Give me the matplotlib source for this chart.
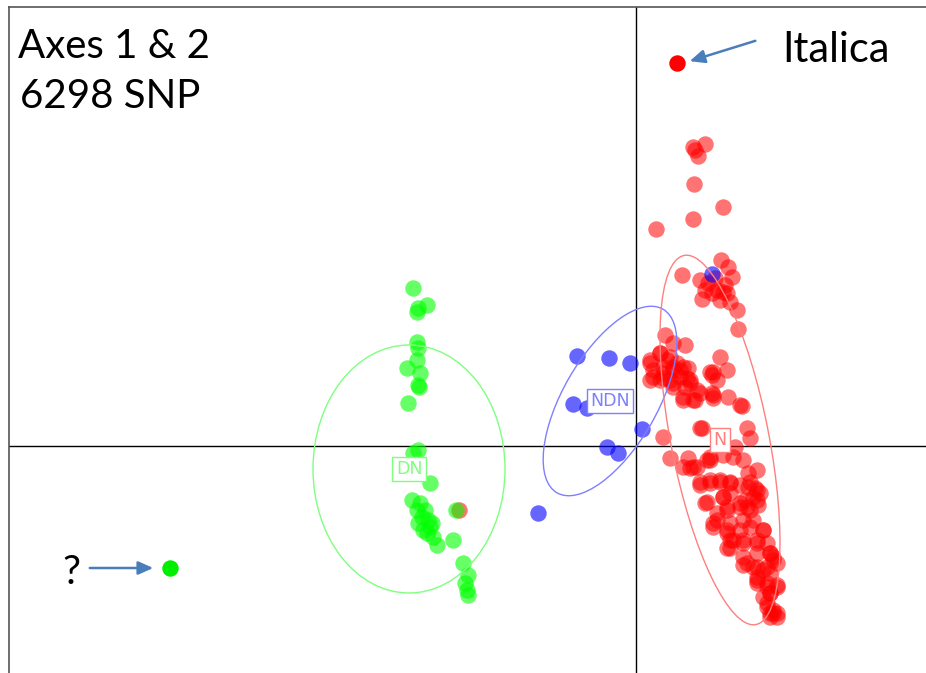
import numpy as np
import matplotlib.pyplot as plt
from matplotlib.patches import Ellipse

# PCA scores (axis 1, axis 2) per group
dn_x = [-2.23, -2.18, -2.09, -2.19, -2.19, -2.18, -2.19, -2.29, -2.16, -2.18,
        -2.17, -2.28, -2.18, -2.23, -2.06, -2.24, -2.16, -2.11, -2.08, -2.06,
        -2.09, -2.03, -1.99, -1.83, -1.80, -1.73, -1.68, -1.71, -1.69, -1.68,
        -2.19, -2.14, -2.18, -2.13, -2.04]
dn_y = [1.58, 1.38, 1.41, 1.34, 1.04, 0.98, 0.86, 0.78, 0.73, 0.61,
        0.59, 0.43, -0.04, -0.07, -0.37, -0.54, -0.57, -0.64, -0.74, -0.81,
        -0.87, -0.91, -0.99, -0.94, -0.64, -1.17, -1.29, -1.37, -1.44, -1.49,
        -0.64, -0.71, -0.77, -0.84, -0.77]

ndn_x = [-0.59, -0.27, -0.06, -0.63, -0.49, 0.06, -0.29, -0.18, -0.98, 0.76]
ndn_y = [0.90, 0.88, 0.83, 0.42, 0.38, 0.17, -0.01, -0.07, -0.67, 1.72]

n_x = [-1.77, 0.57, 0.69, 0.62, 0.59, 0.58, 0.87, 0.57, 0.20, 0.46,
       0.85, 0.92, 0.96, 0.64, 0.72, 0.81, 0.89, 0.91, 0.66, 0.76,
       0.87, 0.94, 1.01, 1.02, 0.29, 0.37, 0.49, 0.14, 0.24, 0.31,
       0.37, 0.44, 0.17, 0.27, 0.37, 0.51, 0.54, 0.61, 0.47, 0.59,
       0.84, 0.74, 0.91, 0.76, 0.92, 1.06, 0.27, 0.64, 1.11, 1.14,
       0.99, 0.34, 0.52, 0.57, 0.74, 0.87, 0.97, 1.07, 1.21, 1.12,
       0.64, 0.74, 0.84, 0.94, 1.04, 1.14, 1.21, 0.71, 0.87, 0.91,
       1.04, 1.17, 1.11, 0.81, 0.94, 1.07, 1.17, 1.27, 0.77, 0.91,
       0.97, 1.07, 1.21, 1.34, 0.94, 1.11, 1.21, 1.31, 1.37, 1.41,
       1.21, 1.31, 1.41, 1.34, 1.31, 1.37, 1.41, 1.34, 0.47, 0.71,
       0.54, 0.66, 0.47, 0.57, 0.64, 0.77, 0.77, 0.81,
       0.61, 0.74, 0.64, 0.74, 0.84, 0.94, 0.69, 0.87, 0.94, 1.12,
       1.19, 1.24, 1.09, 1.21, 0.81, 0.91, 1.04, 1.14, 1.22, 0.77,
       0.91, 1.04, 1.14, 1.27, 0.94, 1.07, 1.21, 1.31, 0.91, 1.07,
       1.21, 1.34, 1.37, 1.07, 1.17, 1.27, 1.21, 1.34, 1.21, 1.31,
       1.41, 1.27, 1.34, 1.31, 1.37, 1.34, 1.41,
       0.14, 0.24, 0.34, 0.41, 0.17, 0.27, 0.37, 0.47, 0.14, 0.24,
       0.34, 0.44, 0.54, 0.52, 0.37, 0.49, 0.27, 0.76, 0.77, 1.04,
       0.79, 0.84, 0.69]
n_y = [-0.64, 2.99, 3.02, 2.90, 2.96, 2.62, 2.39, 2.27, 2.17, 1.71,
       1.86, 1.79, 1.69, 1.66, 1.63, 1.56, 1.61, 1.53, 1.47, 1.53,
       1.54, 1.44, 1.36, 1.17, 1.11, 1.03, 1.01, 0.83, 0.93, 0.86,
       0.79, 0.76, 0.69, 0.68, 0.63, 0.68, 0.63, 0.56, 0.46, 0.46,
       0.89, 0.74, 0.76, 0.53, 0.49, 0.40, 0.09, 0.18, 0.18, 0.08,
       -0.01, -0.12, -0.12, -0.21, -0.11, -0.09, -0.11, -0.14, -0.24, -0.27,
       -0.36, -0.34, -0.36, -0.37, -0.39, -0.36, -0.44, -0.56, -0.51, -0.61,
       -0.57, -0.51, -0.61, -0.74, -0.77, -0.74, -0.74, -0.84, -0.81, -0.87,
       -0.94, -0.94, -0.97, -1.07, -1.02, -1.17, -1.21, -1.21, -1.11, -1.17,
       -1.34, -1.37, -1.39, -1.47, -1.57, -1.64, -1.71, -1.67, -0.21, -0.14,
       -0.22, 0.18, 0.49, 0.46, 0.53, 0.51, 0.74, 0.66,
       -0.21, -0.14, -0.39, -0.37, -0.34, -0.36, -0.57, -0.51, -0.47, -0.41,
       -0.42, -0.47, -0.54, -0.54, -0.67, -0.64, -0.61, -0.64, -0.59, -0.77,
       -0.84, -0.84, -0.81, -0.84, -0.94, -0.97, -0.94, -0.97, -1.02, -1.11,
       -1.07, -1.07, -1.14, -1.19, -1.21, -1.24, -1.31, -1.27, -1.37, -1.41,
       -1.41, -1.51, -1.47, -1.61, -1.67, -1.71, -1.67,
       0.86, 0.93, 0.89, 0.83, 0.76, 0.79, 0.76, 0.79, 0.66, 0.66,
       0.66, 0.69, 0.66, 0.78, 0.59, 0.59, 0.73, 0.71, 0.48, 0.41,
       1.68, 1.46, 1.56]

italica = (0.41, 3.83)
unknown = (-4.66, -1.22)

groups = ['DN', 'NDN', 'N']
colors = ['#00ff00', '#0000ff', '#ff0000']
label_colors = ['#7fff7f', '#7f7fff', '#ff7f7f']
# ellipse centre, full width, full height, angle
ell_center = [(-2.27, -0.23), (-0.26, 0.45), (0.84, 0.06)]
ell_size = [(1.92, 2.48), (2.12, 0.94), (3.76, 0.98)]
ell_angle = [0, 60, 101]

fig = plt.figure(figsize=(9.26, 6.73), dpi=100)
ax = fig.add_axes([9 / 926, 0, 917 / 926, 666 / 673])
ax.set_xlim(-6.27, 2.90)
ax.set_ylim(-2.27, 4.39)
ax.set_xticks([])
ax.set_yticks([])
for side in ['right', 'bottom']:
    ax.spines[side].set_visible(False)
for side in ['left', 'top']:
    ax.spines[side].set_color('#555555')
    ax.spines[side].set_linewidth(1.2)

ax.axhline(0, color='black', lw=1, zorder=1)
ax.axvline(0, color='black', lw=1, zorder=1)

ax.scatter(n_x, n_y, s=140, c=colors[2], alpha=0.55, lw=0, zorder=2)
ax.scatter(dn_x, dn_y, s=140, c=colors[0], alpha=0.6, lw=0, zorder=3)
ax.scatter(ndn_x, ndn_y, s=140, c=colors[1], alpha=0.6, lw=0, zorder=4)
ax.scatter([italica[0]], [italica[1]], s=140, c=colors[2], lw=0, zorder=4)
ax.scatter([unknown[0]], [unknown[1]], s=140, c='#00ee00', lw=0, zorder=4)

for i, g in enumerate(groups):
    e = Ellipse(ell_center[i], ell_size[i][0], ell_size[i][1], angle=ell_angle[i],
                fill=False, edgecolor=label_colors[i], lw=1, zorder=5)
    ax.add_patch(e)
    ax.text(ell_center[i][0], ell_center[i][1], g, color=label_colors[i],
            fontsize=12.5, family='DejaVu Sans', ha='center', va='center', zorder=6,
            bbox=dict(boxstyle='square,pad=0.2', fc='white', ec=label_colors[i], lw=1))

fig.text(18 / 926, 1 - 46 / 673, 'Axes 1 & 2', fontsize=29, family='Lato', va='center')
fig.text(20 / 926, 1 - 97 / 673, '6298 SNP', fontsize=29, family='Lato', va='center')
fig.text(782 / 926, 1 - 50 / 673, 'Italica', fontsize=30, family='Lato', va='center')
fig.text(71 / 926, 1 - 573 / 673, '?', fontsize=29, family='Lato', va='center', ha='center')

arrow = dict(arrowstyle='-|>,head_length=0.9,head_width=0.4', color='#4a7ebb', lw=1.8)
ax.annotate('', xy=(italica[0] + 0.1, italica[1] + 0.01), xytext=(1.22, 4.06),
            arrowprops=arrow)
ax.annotate('', xy=(unknown[0] - 0.14, unknown[1]), xytext=(-5.49, unknown[1]),
            arrowprops=arrow)

plt.savefig('out.png', dpi=100)
